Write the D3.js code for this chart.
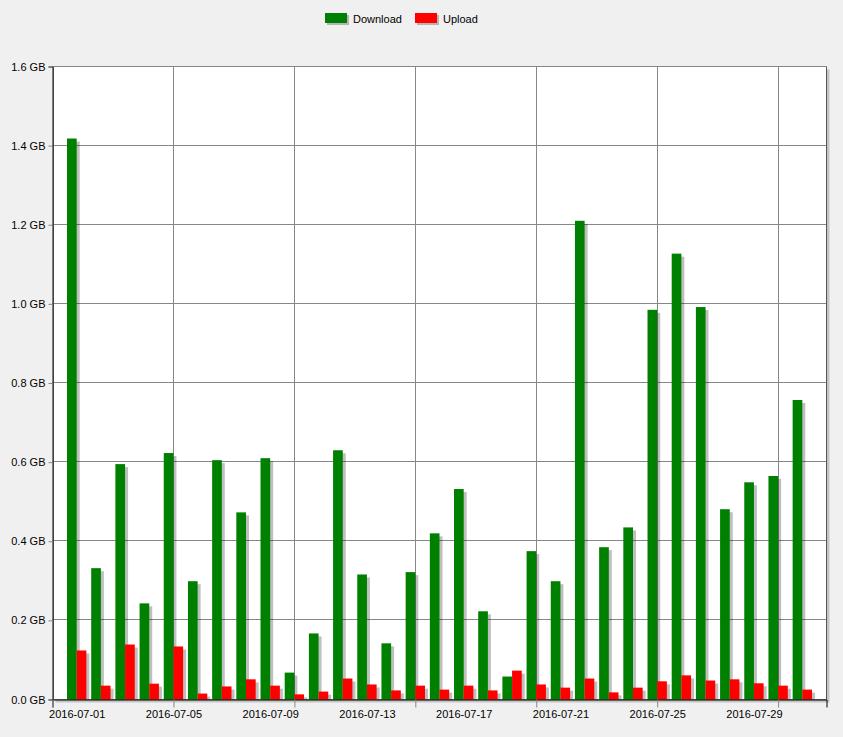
<!DOCTYPE html>
<html>
<head>
<meta charset="utf-8">
<script src="https://cdn.jsdelivr.net/npm/d3@7"></script>
<style>
  html, body { margin: 0; padding: 0; background: #f0f0f0; }
  svg { display: block; font-family: "Liberation Sans", Arial, sans-serif; }
</style>
</head>
<body>
<svg id="chart" width="843" height="737"></svg>
<script>
// ---- data (GB per day) ----
const days = [
  "2016-07-01","2016-07-02","2016-07-03","2016-07-04","2016-07-05","2016-07-06","2016-07-07","2016-07-08",
  "2016-07-09","2016-07-10","2016-07-11","2016-07-12","2016-07-13","2016-07-14","2016-07-15","2016-07-16",
  "2016-07-17","2016-07-18","2016-07-19","2016-07-20","2016-07-21","2016-07-22","2016-07-23","2016-07-24",
  "2016-07-25","2016-07-26","2016-07-27","2016-07-28","2016-07-29","2016-07-30","2016-07-31"
];
const download = [1.418, 0.332, 0.595, 0.243, 0.623, 0.299, 0.605, 0.473, 0.610, 0.068, 0.167, 0.630, 0.316, 0.142, 0.322, 0.420,
                  0.532, 0.223, 0.058, 0.375, 0.299, 1.210, 0.385, 0.435, 0.985, 1.127, 0.992, 0.481, 0.549, 0.565, 0.757];
const upload   = [0.124, 0.035, 0.139, 0.040, 0.134, 0.015, 0.033, 0.051, 0.035, 0.013, 0.020, 0.053, 0.038, 0.023, 0.035, 0.025,
                  0.035, 0.023, 0.073, 0.038, 0.030, 0.053, 0.018, 0.030, 0.046, 0.061, 0.048, 0.051, 0.041, 0.035, 0.025];
const seriesNames = ["Download", "Upload"];
const seriesColors = ["#008000", "#ff0000"];
const yTicks = [0, 0.2, 0.4, 0.6, 0.8, 1.0, 1.2, 1.4, 1.6];
const xLabelDates = ["2016-07-01","2016-07-05","2016-07-09","2016-07-13","2016-07-17","2016-07-21","2016-07-25","2016-07-29"];
const xGridDates = ["2016-06-30","2016-07-05","2016-07-10","2016-07-15","2016-07-20","2016-07-25","2016-07-30"];
const xDomain = ["2016-06-30", "2016-08-01"];

// ---- layout ----
const parse = d3.utcParse("%Y-%m-%d");
const L = 52.5, R = 826.5, T = 66.5, B = 699.5;
const svg = d3.select("#chart");

const x = d3.scaleUtc().domain(xDomain.map(parse)).range([L, R]);
const y = d3.scaleLinear().domain([0, 1.6]).range([B, T]);
const dayW = x(parse("2016-07-02")) - x(parse("2016-07-01"));
const groupW = dayW * 0.8;
const sub = d3.scaleBand().domain(seriesNames).range([-groupW / 2, groupW / 2]).padding(0);

// plot area shadow + background
svg.append("rect").attr("x", L + 3).attr("y", T + 3).attr("width", R - L).attr("height", B - T)
  .attr("fill", "#c4c4c4");
svg.append("rect").attr("x", L).attr("y", T).attr("width", R - L).attr("height", B - T)
  .attr("fill", "#ffffff");

// horizontal grid
svg.append("g").selectAll("line").data(yTicks).join("line")
  .attr("x1", L).attr("x2", R)
  .attr("y1", d => Math.round(y(d)) - 0.5).attr("y2", d => Math.round(y(d)) - 0.5)
  .attr("stroke", "#878787").attr("stroke-width", 1);
// vertical grid
svg.append("g").selectAll("line").data(xGridDates.map(parse)).join("line")
  .attr("x1", d => Math.round(x(d)) + 0.5).attr("x2", d => Math.round(x(d)) + 0.5)
  .attr("y1", T).attr("y2", B)
  .attr("stroke", "#878787").attr("stroke-width", 1);

// bars
const rows = days.map((d, i) => ({ date: parse(d), vals: [download[i], upload[i]] }));
const flat = [];
rows.forEach(r => r.vals.forEach((v, k) => flat.push({ date: r.date, v, k })));

const bx = d => x(d.date) + sub(seriesNames[d.k]);
svg.append("g").selectAll("rect").data(flat).join("rect")
  .attr("x", d => bx(d) + 3).attr("y", d => y(d.v) + 3)
  .attr("width", sub.bandwidth()).attr("height", d => y(0) - y(d.v) - 3)
  .attr("fill", "#000").attr("fill-opacity", 0.25);
svg.append("g").selectAll("rect").data(flat).join("rect")
  .attr("x", d => bx(d)).attr("y", d => y(d.v))
  .attr("width", sub.bandwidth()).attr("height", d => y(0) - y(d.v))
  .attr("fill", d => seriesColors[d.k]);

// right border
svg.append("line").attr("x1", R).attr("x2", R).attr("y1", T).attr("y2", B)
  .attr("stroke", "#555").attr("stroke-width", 1);

// axes
const yAxis = d3.axisLeft(y).tickValues(yTicks).tickSize(4).tickPadding(3)
  .tickFormat(d => d3.format(".1f")(d) + " GB");
const gy = svg.append("g").attr("transform", `translate(${L},0)`).call(yAxis);
gy.select(".domain").attr("stroke", "#000");
gy.selectAll(".tick line").attr("stroke", "#878787");
gy.selectAll("text").attr("font-size", 11).attr("fill", "#000").attr("font-family", "Liberation Sans, Arial, sans-serif");

const xTickAxis = d3.axisBottom(x).tickValues(xGridDates.map(parse)).tickSize(8).tickFormat("");
const gx = svg.append("g").attr("transform", `translate(0,${B})`).call(xTickAxis);
gx.select(".domain").attr("stroke", "#000");
gx.selectAll(".tick line").attr("stroke", "#878787");

const xLabelAxis = d3.axisBottom(x).tickValues(xLabelDates.map(parse)).tickSize(0).tickPadding(11)
  .tickFormat(d3.utcFormat("%Y-%m-%d"));
const gxl = svg.append("g").attr("transform", `translate(0,${B})`).call(xLabelAxis);
gxl.select(".domain").remove();
gxl.selectAll("text").attr("font-size", 11).attr("fill", "#000").attr("font-family", "Liberation Sans, Arial, sans-serif");

// legend
const legend = svg.append("g");
const legendX = [325, 415];
seriesNames.forEach((name, k) => {
  const g = legend.append("g").attr("transform", `translate(${legendX[k]},13)`);
  g.append("rect").attr("x", 2).attr("y", 2).attr("width", 22).attr("height", 10).attr("fill", "#000").attr("fill-opacity", 0.25);
  g.append("rect").attr("x", 0).attr("y", 0).attr("width", 22).attr("height", 10).attr("fill", seriesColors[k]);
  g.append("text").attr("x", 28).attr("y", 9.5).attr("font-size", 11).attr("fill", "#000").text(name);
});
</script>
</body>
</html>
